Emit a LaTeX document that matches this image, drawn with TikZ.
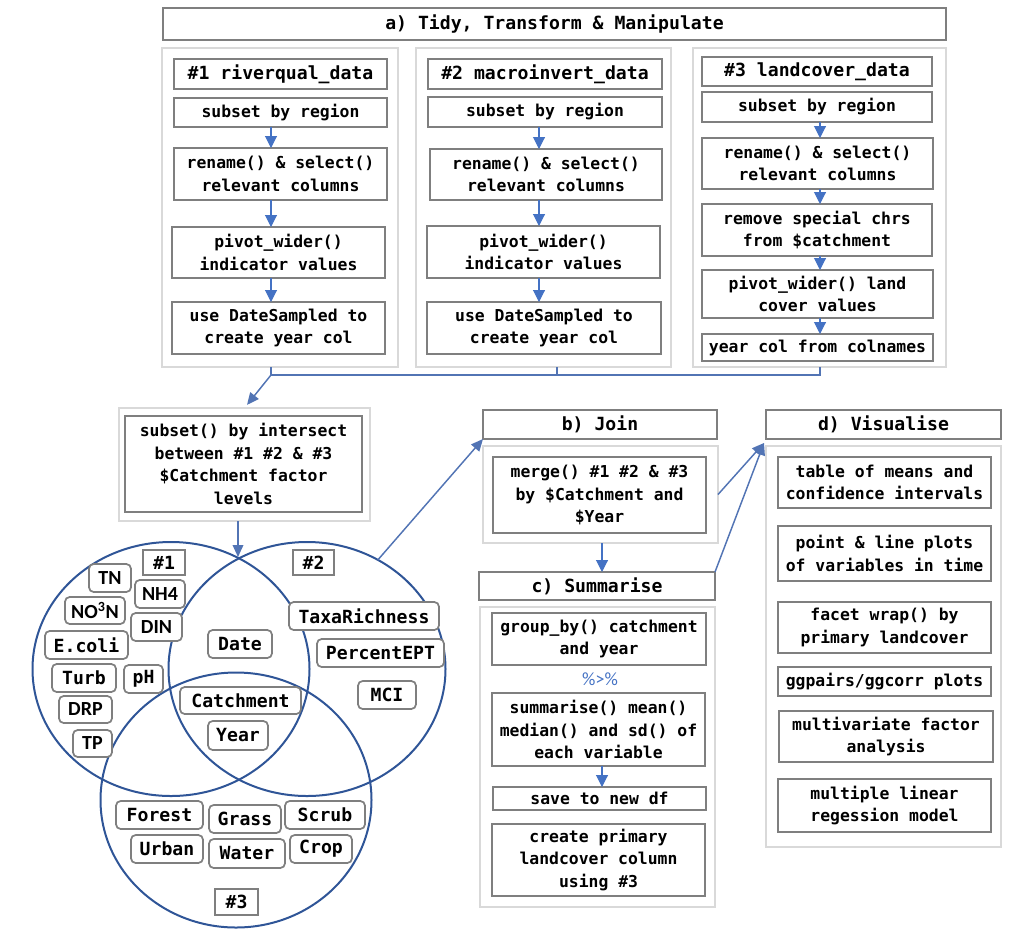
\documentclass[tikz,border=0pt]{standalone}
\usepackage{fontspec}
\setmonofont{DejaVu Sans Mono}
\newfontfamily\calib{Carlito}
\usetikzlibrary{fit,calc,arrows.meta,shapes.geometric}
\definecolor{bxg}{HTML}{7F7F7F}
\definecolor{pnl}{HTML}{D9D9D9}
\definecolor{arb}{HTML}{4472C4}
\definecolor{cnb}{HTML}{5274B4}
\definecolor{vn}{HTML}{2F5597}
\tikzset{
  every node/.style={inner sep=0pt, outer sep=0pt},
  gbox/.style={draw=bxg, line width=1.5pt, fill=white, align=center,
    font=\ttfamily\bfseries\fontsize{12.3}{17}\selectfont},
  hbox/.style={gbox, font=\ttfamily\bfseries\fontsize{13.6}{17}\selectfont},
  panel/.style={draw=pnl, line width=1.7pt},
  vbox/.style={draw=bxg, line width=1.3pt, fill=white, rounded corners=3.5pt,
    font=\ttfamily\bfseries\fontsize{13.6}{17}\selectfont},
  cbox/.style={vbox, font=\calib\bfseries\fontsize{15}{17}\selectfont},
  sbox/.style={gbox, font=\ttfamily\bfseries\fontsize{13.6}{17}\selectfont},
  venn/.style={ellipse, draw=vn, line width=1.5pt},
  arr/.style={draw=arb, line width=0.8pt, -{Triangle[length=9pt,width=9pt]}},
  conn/.style={draw=cnb, line width=1.1pt},
  carr/.style={conn, -{Triangle[length=9pt,width=8pt]}},
  pipe/.style={text=arb, font=\calib\fontsize{14}{17}\selectfont},
  txt/.style={draw=none, fill=none, rounded corners=0pt},
}
\newcommand{\bx}[7][gbox]{\node[#1, fit={(#3,#4)(#5,#6)}] (#2) {};
  \node[#1, txt] (#2-t) at (#2.center) {#7};}
\newcommand{\pn}[5]{\node[panel, fit={(#2,#3)(#4,#5)}] (#1) {};}
\begin{document}
\begin{tikzpicture}[x=0.75pt,y=-0.75pt]
\useasboundingbox (0,0) rectangle (1031,936);
% ---------- a) Tidy ----------
\bx[hbox]{T}{163}{8}{946}{40}{a) Tidy, Transform \& Manipulate}
\pn{P1}{162}{48}{398}{367}
\pn{P2}{416}{48}{671}{367}
\pn{P3}{693}{48}{946}{367}
\coordinate (X1) at (271,0);
\coordinate (X2) at (539,0);
\coordinate (X3) at (820,0);
\coordinate (X2b) at (557,0);
\coordinate (JY) at (0,375);
% panel 1
\bx[hbox]{a1}{174}{59}{387}{89}{\#1 riverqual\_data}
\bx{a2}{174}{98}{387}{127}{subset by region}
\bx{a3}{174}{148}{387}{200}{rename() \& select()\\relevant columns}
\bx{a4}{172}{227}{385}{278}{pivot\_wider()\\indicator values}
\bx{a5}{172}{302}{385}{354}{use DateSampled to\\create year col}
\draw[arr] (a2.south -| X1) -- (a3.north -| X1);
\draw[arr] (a3.south -| X1) -- (a4.north -| X1);
\draw[arr] (a4.south -| X1) -- (a5.north -| X1);
% panel 2
\bx[hbox]{b1}{428}{59}{662}{89}{\#2 macroinvert\_data}
\bx{b2}{428}{97}{662}{127}{subset by region}
\bx{b3}{430}{149}{662}{200}{rename() \& select()\\relevant columns}
\bx{b4}{427}{226}{660}{278}{pivot\_wider()\\indicator values}
\bx{b5}{427}{302}{661}{354}{use DateSampled to\\create year col}
\draw[arr] (b2.south -| X2) -- (b3.north -| X2);
\draw[arr] (b3.south -| X2) -- (b4.north -| X2);
\draw[arr] (b4.south -| X2) -- (b5.north -| X2);
% panel 3
\bx[hbox]{c1}{702}{57}{932}{86}{\#3 landcover\_data}
\bx{c2}{702}{92}{932}{122}{subset by region}
\bx{c3}{702}{138}{933}{189}{rename() \& select()\\relevant columns}
\bx{c4}{702}{204}{932}{256}{remove special chrs\\from \$catchment}
\bx{c5}{702}{270}{933}{318}{pivot\_wider() land\\cover values}
\bx{c6}{702}{334}{933}{361}{year col from colnames}
\draw[arr] (c2.south -| X3) -- (c3.north -| X3);
\draw[arr] (c3.south -| X3) -- (c4.north -| X3);
\draw[arr] (c4.south -| X3) -- (c5.north -| X3);
\draw[arr] (c5.south -| X3) -- (c6.north -| X3);
% joining connector
\draw[conn] (P1.south -| X1) -- (JY -| X1) -- (JY -| X3) -- (P3.south -| X3);
\draw[conn] (P2.south -| X2b) -- (JY -| X2b);
% ---------- subset ----------
\pn{S}{119}{408}{370}{521}
\bx{si}{125}{416}{362}{512}{subset() by intersect\\between \#1 \#2 \& \#3\\\$Catchment factor\\levels}
\draw[carr, shorten >=3pt] (JY -| X1) -- (S.north);
% ---------- Venn ----------
\node[venn, minimum width=207.75pt, minimum height=190.5pt] (V1) at (171,669) {};
\node[venn, minimum width=207.75pt, minimum height=190.5pt] (V2) at (307,669) {};
\node[venn, minimum width=203.25pt, minimum height=191.25pt] (V3) at (236,800) {};
\coordinate (X4) at (238,0);
\coordinate (VT) at (238,557);
\draw[carr] (S.south -| X4) -- (VT);
\bx[sbox]{L1}{143}{550}{185}{575}{\#1}
\bx[sbox]{L2}{293}{550}{334}{575}{\#2}
\bx[sbox]{L3}{215}{889}{258}{915}{\#3}
\bx[cbox]{TN}{89}{564}{131}{592}{TN}
\bx[cbox]{NH}{135}{580}{185}{608}{NH4}
\bx[cbox]{NO}{65}{597}{125}{624}{NO\textsuperscript{3}N}
\bx[cbox]{DIN}{131}{613}{182}{641}{DIN}
\bx[vbox]{EC}{45}{631}{128}{659}{E.coli}
\bx[vbox]{TU}{52}{664}{116}{692}{Turb}
\bx[vbox]{PH}{124}{665}{163}{693}{pH}
\bx[cbox]{DRP}{59}{696}{112}{723}{DRP}
\bx[cbox]{TP}{73}{730}{112}{757}{TP}
\bx[vbox]{DA}{208}{630}{272}{658}{Date}
\bx[vbox]{CA}{180}{687}{301}{714}{Catchment}
\bx[vbox]{YE}{208}{721}{268}{750}{Year}
\bx[vbox]{TR}{289}{602}{439}{630}{TaxaRichness}
\bx[vbox]{PE}{317}{639}{444}{667}{PercentEPT}
\bx[vbox]{MC}{358}{681}{416}{709}{MCI}
\bx[vbox]{FO}{116}{801}{203}{829}{Forest}
\bx[vbox]{GR}{209}{805}{281}{833}{Grass}
\bx[vbox]{SC}{285}{801}{365}{829}{Scrub}
\bx[vbox]{UR}{131}{835}{203}{863}{Urban}
\bx[vbox]{WA}{209}{839}{285}{868}{Water}
\bx[vbox]{CR}{290}{835}{352}{863}{Crop}
% ---------- b) Join ----------
\bx[hbox]{JT}{483}{410}{717}{439}{b) Join}
\pn{JP}{483}{446}{718}{543}
\bx{j1}{493}{457}{706}{533}{merge() \#1 \#2 \& \#3\\by \$Catchment and\\\$Year}
\draw[carr] (V2.57) -- (JT.south west);
% ---------- c) Summarise ----------
\coordinate (X5) at (602,0);
\bx[hbox]{ST}{479}{572}{715}{600}{c) Summarise}
\pn{SP}{480}{607}{715}{907}
\draw[arr] (JP.south -| X5) -- (ST.north -| X5);
\bx{g1}{492}{613}{706}{665}{group\_by() catchment\\and year}
\node[pipe] (PP) at (600,679) {\%>\%};
\bx{g2}{492}{693}{705}{766}{summarise() mean()\\median() and sd() of\\each variable}
\bx{g3}{493}{787}{706}{810}{save to new df}
\bx{g4}{492}{824}{705}{896}{create primary\\landcover column\\using \#3}
\draw[arr] (g2.south -| X5) -- (g3.north -| X5);
% ---------- d) Visualise ----------
\bx[hbox]{VT1}{766}{410}{1001}{439}{d) Visualise}
\pn{VP}{766}{446}{1001}{847}
\bx{d1}{778}{457}{991}{508}{table of means and\\confidence intervals}
\bx{d2}{778}{526}{991}{581}{point \& line plots\\of variables in time}
\bx{d3}{778}{602}{991}{653}{facet wrap() by\\primary landcover}
\bx{d4}{778}{667}{991}{696}{ggpairs/ggcorr plots}
\bx{d5}{779}{711}{993}{762}{multivariate factor\\analysis}
\bx{d6}{778}{779}{991}{832}{multiple linear\\regession model}
\draw[carr] (JP.east) -- ($(VP.north west)+(-2,-3)$);
\draw[carr] (ST.north east) -- ($(VP.north west)+(-2,-3)$);
\end{tikzpicture}
\end{document}
